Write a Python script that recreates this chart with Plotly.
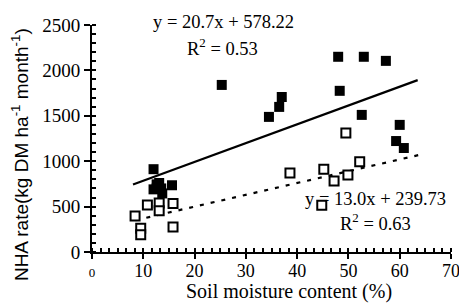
import plotly.graph_objects as go

# Filled squares (upper series)
filled_x = [25.3, 48.0, 53.0, 57.3, 48.3, 37.0, 36.5, 34.5, 52.6, 60.0, 59.3, 60.8,
            12.0, 12.6, 13.1, 12.0, 13.5, 12.6, 13.7, 15.6]
filled_y = [1840, 2150, 2150, 2105, 1775, 1707, 1598, 1488, 1510, 1400, 1222, 1145,
            912, 745, 760, 690, 700, 700, 645, 735]

# Open squares (lower series)
open_x = [49.5, 52.2, 45.2, 47.2, 49.9, 44.8, 38.6,
          10.8, 13.1, 13.1, 15.8, 8.4, 9.5, 9.5, 15.8]
open_y = [1310, 995, 912, 782, 848, 515, 870,
          518, 540, 455, 535, 396, 262, 190, 275]

# Regression lines
fit1_slope, fit1_int = 20.7, 578.22
fit2_slope, fit2_int = 13.0, 239.73
fit1_x = [8.0, 63.5]
fit2_x = [8.5, 64.0]

x_tickvals = [0, 10, 20, 30, 40, 50, 60, 70]
y_tickvals = [0, 500, 1000, 1500, 2000, 2500]

serif = "Liberation Serif, Times New Roman, serif"
sans = "Liberation Sans, Arial, sans-serif"

fig = go.Figure()
fig.add_trace(go.Scatter(x=fit1_x, y=[fit1_slope * v + fit1_int for v in fit1_x],
                         mode="lines", line=dict(color="black", width=2.2), hoverinfo="skip"))
fig.add_trace(go.Scatter(x=fit2_x, y=[fit2_slope * v + fit2_int for v in fit2_x],
                         mode="lines", line=dict(color="black", width=2.2, dash="4px,7px"),
                         hoverinfo="skip"))
fig.add_trace(go.Scatter(x=filled_x, y=filled_y, mode="markers",
                         marker=dict(symbol="square", size=10, color="black",
                                     line=dict(width=0))))
fig.add_trace(go.Scatter(x=open_x, y=open_y, mode="markers",
                         marker=dict(symbol="square", size=9, color="white",
                                     line=dict(width=2, color="black"))))

x_ticktext = ["<span style='font-size:13px'>0</span>"] + [str(v) for v in x_tickvals[1:]]

fig.update_xaxes(range=[0, 70], tickvals=x_tickvals, ticktext=x_ticktext,
                 automargin=False, ticklabeloverflow="allow", ticklabelstandoff=-4,
                 showgrid=False, zeroline=False, showline=True, linecolor="black",
                 linewidth=2, ticks="outside", ticklen=5, tickwidth=2, tickcolor="black",
                 tickfont=dict(family=serif, size=18, color="black"),
                 minor=dict(dtick=10 / 6, ticks="inside", ticklen=4, tickwidth=1.5,
                            tickcolor="black", showgrid=False))
fig.update_yaxes(range=[0, 2500], tickvals=y_tickvals,
                 automargin=False, ticklabeloverflow="allow",
                 showgrid=False, zeroline=False, showline=True, linecolor="black",
                 linewidth=2, ticks="outside", ticklen=6, tickwidth=2, tickcolor="black",
                 tickfont=dict(family=serif, size=19, color="black"),
                 minor=dict(dtick=100, ticks="inside", ticklen=4, tickwidth=1.5,
                            tickcolor="black", showgrid=False))

# Axis titles
fig.add_annotation(x=0.549, y=-0.176, xref="paper", yref="paper",
                   text="Soil moisture content (%)", showarrow=False,
                   font=dict(family=serif, size=20, color="black"),
                   xanchor="center", yanchor="middle")
fig.add_annotation(x=(20 - 92) / 359, y=0.427, xref="paper", yref="paper",
                   text="NHA rate(kg DM ha<sup>-1</sup> month<sup>-1</sup>)",
                   showarrow=False, textangle=-90,
                   font=dict(family=sans, size=19, color="black"),
                   xanchor="center", yanchor="middle")

ann_font = dict(family=serif, size=18.5, color="black")
fig.add_annotation(x=0.365, y=1.013, xref="paper", yref="paper", text="y = 20.7x + 578.22",
                   showarrow=False, font=ann_font, xanchor="center", yanchor="middle")
fig.add_annotation(x=0.364, y=0.903, xref="paper", yref="paper", text="R<sup>2</sup> = 0.53",
                   showarrow=False, font=ann_font, xanchor="center", yanchor="middle")
fig.add_annotation(x=0.791, y=0.233, xref="paper", yref="paper", text="y = 13.0x + 239.73",
                   showarrow=False, font=ann_font, xanchor="center", yanchor="middle")
fig.add_annotation(x=0.791, y=0.132, xref="paper", yref="paper", text="R<sup>2</sup> = 0.63",
                   showarrow=False, font=ann_font, xanchor="center", yanchor="middle")

fig.update_layout(width=459, height=304, showlegend=False,
                  margin=dict(l=92, r=8, t=25, b=52),
                  plot_bgcolor="white", paper_bgcolor="white")
fig.write_html("out.html", config={"displayModeBar": False},
               post_script="document.body.style.margin='0';")
